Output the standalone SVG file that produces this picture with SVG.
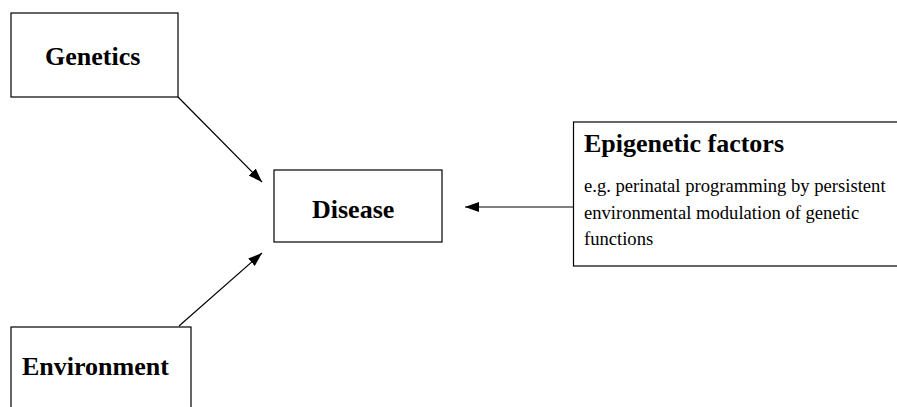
<svg xmlns="http://www.w3.org/2000/svg" width="897" height="407" viewBox="0 0 897 407">
<style>
.box{fill:#fff;stroke:#000;stroke-width:1.2}
.t{font-family:"Liberation Serif","Times New Roman",serif;font-weight:bold;font-size:26px;fill:#000}
.b{font-family:"Liberation Serif","Times New Roman",serif;font-size:18.6px;fill:#000}
.c{stroke:#000;stroke-width:1.2;fill:none;marker-end:url(#ah)}
</style>
<defs>
<marker id="ah" viewBox="0 0 14 10" refX="14" refY="5" markerWidth="14" markerHeight="10" markerUnits="userSpaceOnUse" orient="auto">
<path d="M0,0 L14,5 L0,10 Z" fill="#000"/>
</marker>
</defs>
<rect width="897" height="407" fill="#fff"/>
<g id="connectors">
<line class="c" x1="178" y1="97" x2="262" y2="182"/>
<line class="c" x1="179" y1="326" x2="262" y2="253"/>
<line class="c" x1="573" y1="207" x2="465" y2="207"/>
</g>
<g id="genetics">
<rect class="box" x="11" y="13" width="167" height="84"/>
<text class="t" x="45" y="65">Genetics</text>
</g>
<g id="disease">
<rect class="box" x="274" y="170" width="168" height="72"/>
<text class="t" x="312" y="218">Disease</text>
</g>
<g id="environment">
<rect class="box" x="11" y="327" width="180" height="100"/>
<text class="t" x="22" y="375">Environment</text>
</g>
<g id="epigenetic">
<rect class="box" x="573.5" y="122" width="340" height="144"/>
<text class="t" x="584" y="152">Epigenetic factors</text>
<text class="b" x="584" y="192">e.g. perinatal programming by persistent</text>
<text class="b" x="584" y="219">environmental modulation of genetic</text>
<text class="b" x="584" y="245">functions</text>
</g>
</svg>
